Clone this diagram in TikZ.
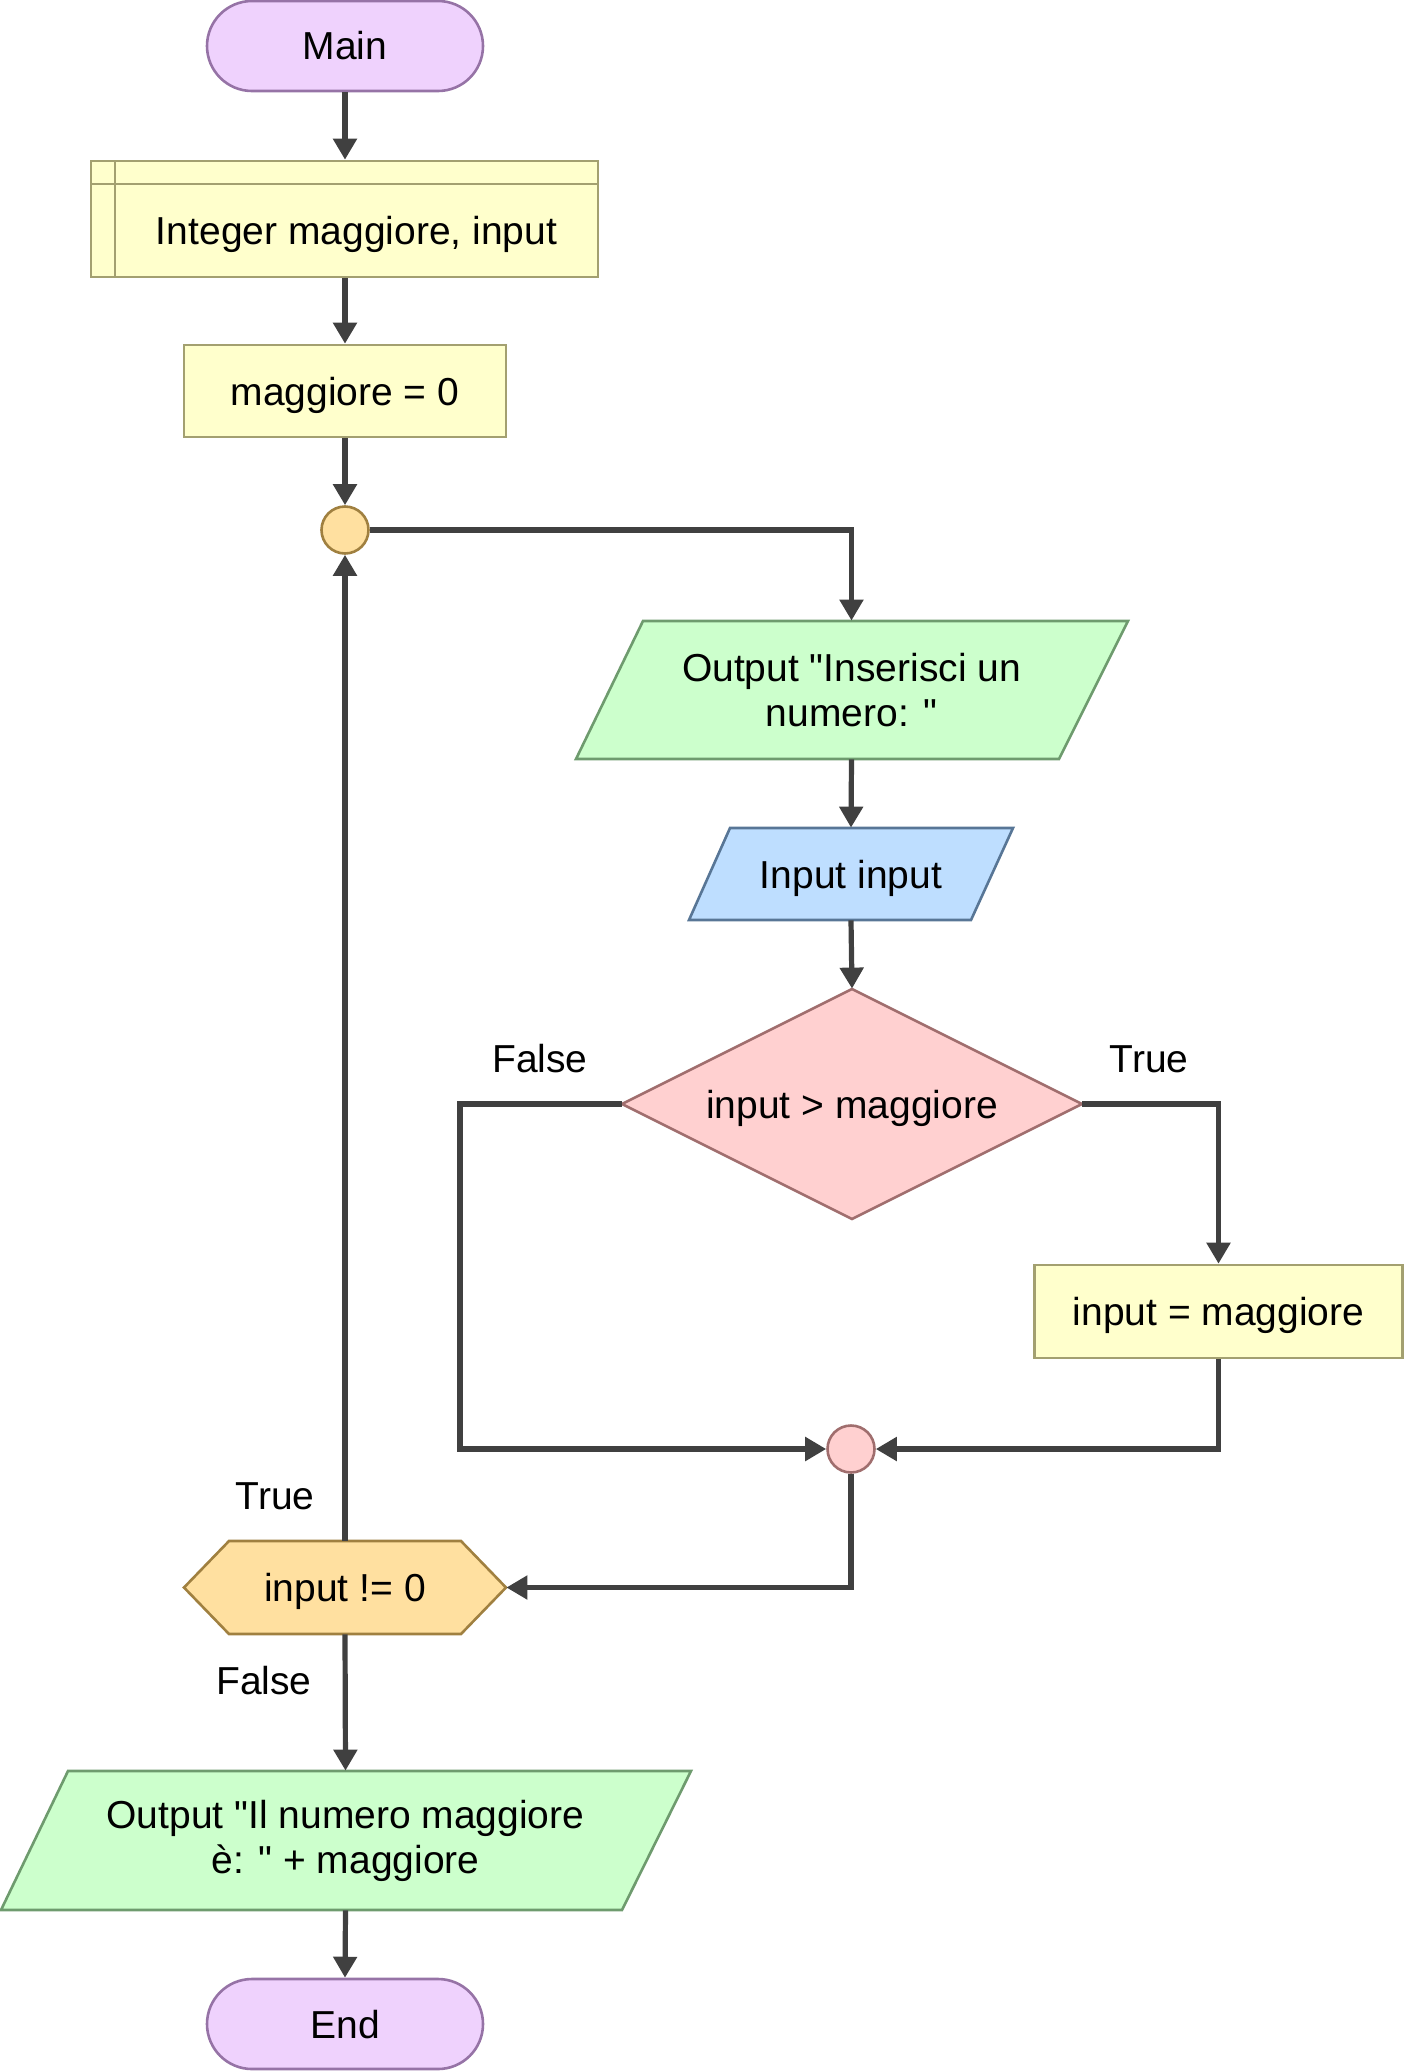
\documentclass[tikz,border=0pt]{standalone}
\usepackage{fontspec}
\setmainfont{Liberation Sans}[Ligatures=TeXOff]
\usetikzlibrary{arrows.meta,calc}
\definecolor{termfill}{RGB}{239,210,253}
\definecolor{termline}{RGB}{150,115,166}
\definecolor{procfill}{RGB}{255,255,204}
\definecolor{procline}{RGB}{163,160,112}
\definecolor{connfill}{RGB}{255,224,160}
\definecolor{connline}{RGB}{160,128,64}
\definecolor{outfill}{RGB}{204,255,204}
\definecolor{outline}{RGB}{110,155,110}
\definecolor{infill}{RGB}{190,222,255}
\definecolor{inline}{RGB}{88,118,150}
\definecolor{decfill}{RGB}{255,208,208}
\definecolor{decline}{RGB}{160,110,110}
\definecolor{wire}{RGB}{64,64,64}
\begin{document}
\begin{tikzpicture}[x=0.5pt,y=-0.5pt,
  every node/.style={font=\fontsize{19.5pt}{22.5pt}\selectfont, align=center, inner sep=0pt},
  oneline/.style={text height=14pt, text depth=0pt},
  shapeline/.style={line width=1.3pt},
  term/.style={oneline, shapeline, draw=termline, fill=termfill, rounded corners=22.5pt, minimum width=138pt, minimum height=45pt},
  procbox/.style={oneline, shapeline, draw=procline, fill=procfill},
  conn/.style={shapeline, circle, minimum size=23.5pt},
  ghost/.style={draw=none, fill=none, minimum width=0pt},
  arr/.style={line width=2.6pt, draw=wire, -{Triangle[length=10.5pt,width=11.5pt]}},
  lbl/.style={oneline}
]
\useasboundingbox (0,0) rectangle (1404,2071);

% Main
\node[term] (main) at (345,46) {Main};

% Declaration
\node[procbox, minimum width=253.5pt, minimum height=58pt] (decl) at (344.5,219) {};
\draw[shapeline, draw=procline] (115,161) -- (115,277);
\draw[shapeline, draw=procline] (91,184) -- (598,184);
\node[oneline] (decltxt) at (356.5,230.5) {Integer maggiore, input};

% Assignment
\node[procbox, minimum width=161pt, minimum height=46pt] (asg1) at (345,391) {maggiore = 0};

% Connector 1
\node[conn, draw=connline, fill=connfill] (conn1) at (345,530) {};

% Output 1
\filldraw[shapeline, draw=outline, fill=outfill] (643,621) -- (1128,621) -- (1059,759) -- (576,759) -- cycle;
\node[ghost, minimum height=69pt] (out1) at (851.5,690) {Output "Inserisci un\\numero: "};

% Input
\filldraw[shapeline, draw=inline, fill=infill] (730,828) -- (1013,828) -- (971,920) -- (689,920) -- cycle;
\node[ghost, oneline, minimum height=46pt] (in1) at (851,874) {Input input};

% Decision
\filldraw[shapeline, draw=decline, fill=decfill] (622,1104) -- (852,989) -- (1082,1104) -- (852,1219) -- cycle;
\node[ghost, oneline, minimum width=230pt, minimum height=115pt] (dec1) at (852,1104) {input > maggiore};

% Assignment 2
\node[procbox, minimum width=184pt, minimum height=46.5pt] (asg2) at (1218.5,1311.5) {input = maggiore};

% Connector 2
\node[conn, draw=decline, fill=decfill] (conn2) at (851,1449) {};

% Loop condition hexagon
\filldraw[shapeline, draw=connline, fill=connfill] (184,1587.5) -- (229,1541) -- (461,1541) -- (506,1587.5) -- (461,1634) -- (229,1634) -- cycle;
\node[ghost, oneline, minimum width=161pt, minimum height=46.5pt] (hex) at (345,1587.5) {input != 0};

% Output 2
\filldraw[shapeline, draw=outline, fill=outfill] (68,1771) -- (691,1771) -- (622,1910) -- (1,1910) -- cycle;
\node[ghost, minimum height=69.5pt] (out2) at (345.5,1840.5) {Output "Il numero maggiore\\è: " + maggiore};

% End
\node[term] (end) at (345,2024) {End};

% Labels
\node[lbl] (lf1) at (540,1058) {False};
\node[lbl] (lt1) at (1149,1058) {True};
\node[lbl] (lt2) at (275,1495) {True};
\node[lbl] (lf2) at (264,1680) {False};

% Connectors
\coordinate (fl) at (460,1104);
\draw[arr] (main.south) -- (main.south |- decl.north);
\draw[arr] (main.south |- decl.south) -- (asg1.north);
\draw[arr] (asg1.south) -- (conn1.north);
\draw[arr] (conn1.east) -| (out1.north);
\draw[arr] (out1.south) -- (in1.north);
\draw[arr] (in1.south) -- (dec1.north);
\draw[arr] (dec1.west) -- (fl) |- (conn2.west);
\draw[arr] (dec1.east) -| (asg2.north);
\draw[arr] (asg2.south) |- (conn2.east);
\draw[arr] (conn2.south) |- (hex.east);
\draw[arr] (hex.north) -- (conn1.south);
\draw[arr] (hex.south) -- (out2.north);
\draw[arr] (out2.south) -- (end.north);
\end{tikzpicture}
\end{document}
